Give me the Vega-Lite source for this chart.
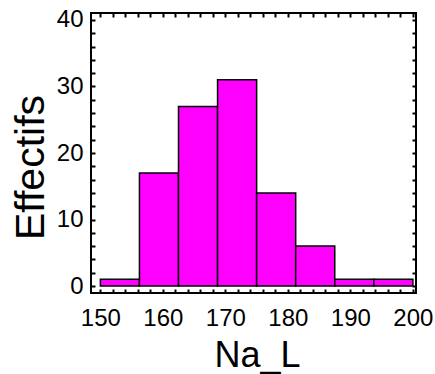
{
  "$schema": "https://vega.github.io/schema/vega-lite/v6.json",
  "autosize": {"type": "none"},
  "width": 325,
  "height": 280,
  "padding": {"left": 91, "top": 13, "right": 19, "bottom": 81},
  "background": "white",
  "config": {
    "view": {"stroke": "black", "strokeWidth": 2},
    "axis": {
      "labelFont": "Liberation Sans",
      "titleFont": "Liberation Sans",
      "labelColor": "black",
      "titleColor": "black",
      "titleFontWeight": "normal",
      "domain": false,
      "grid": false,
      "tickColor": "black",
      "tickWidth": 2
    }
  },
  "data": {
    "values": [
      {"bin_start": 150, "bin_end": 156.25, "count": 1},
      {"bin_start": 156.25, "bin_end": 162.5, "count": 17},
      {"bin_start": 162.5, "bin_end": 168.75, "count": 27},
      {"bin_start": 168.75, "bin_end": 175, "count": 31},
      {"bin_start": 175, "bin_end": 181.25, "count": 14},
      {"bin_start": 181.25, "bin_end": 187.5, "count": 6},
      {"bin_start": 187.5, "bin_end": 193.75, "count": 1},
      {"bin_start": 193.75, "bin_end": 200, "count": 1}
    ]
  },
  "resolve": {"axis": {"x": "independent", "y": "independent"}},
  "layer": [
    {
      "mark": {"type": "bar", "fill": "#FF00FF", "stroke": "black", "strokeWidth": 1.5},
      "encoding": {
        "x": {
          "field": "bin_start", "type": "quantitative",
          "scale": {"domain": [148.5, 200.5], "nice": false, "zero": false},
          "axis": {
            "orient": "bottom", "values": [150, 160, 170, 180, 190, 200], "ticks": false,
            "labelFontSize": 24, "labelPadding": 32, "labelBaseline": "alphabetic",
            "title": "Na_L", "titleFontSize": 36, "titleX": 166, "titleY": 73, "titleBaseline": "alphabetic"
          }
        },
        "x2": {"field": "bin_end"},
        "y": {
          "field": "count", "type": "quantitative",
          "scale": {"domain": [-1.05, 41.05], "nice": false, "zero": false},
          "axis": {
            "orient": "left", "values": [0, 10, 20, 30, 40], "ticks": false,
            "labelFontSize": 24, "labelPadding": 8,
            "title": "Effectifs", "titleFontSize": 41, "titleX": -48, "titleY": 154, "titleBaseline": "alphabetic", "titleAngle": -90
          }
        },
        "y2": {"datum": 0}
      }
    },
    {
      "mark": {"type": "bar", "opacity": 0},
      "encoding": {
        "x": {
          "field": "bin_start", "type": "quantitative",
          "axis": {
            "orient": "bottom", "labels": false, "title": null, "tickSize": -4,
            "values": [150, 152, 154, 156, 158, 160, 162, 164, 166, 168, 170, 172, 174, 176, 178, 180, 182, 184, 186, 188, 190, 192, 194, 196, 198, 200]
          }
        },
        "x2": {"field": "bin_end"},
        "y": {
          "field": "count", "type": "quantitative",
          "axis": {
            "orient": "left", "labels": false, "title": null, "tickSize": -4,
            "values": [0, 2, 4, 6, 8, 10, 12, 14, 16, 18, 20, 22, 24, 26, 28, 30, 32, 34, 36, 38, 40]
          }
        },
        "y2": {"datum": 0}
      }
    },
    {
      "mark": {"type": "bar", "opacity": 0},
      "encoding": {
        "x": {
          "field": "bin_start", "type": "quantitative",
          "axis": {
            "orient": "top", "labels": false, "title": null, "tickSize": -4,
            "values": [150, 152, 154, 156, 158, 160, 162, 164, 166, 168, 170, 172, 174, 176, 178, 180, 182, 184, 186, 188, 190, 192, 194, 196, 198, 200]
          }
        },
        "x2": {"field": "bin_end"},
        "y": {
          "field": "count", "type": "quantitative",
          "axis": {
            "orient": "right", "labels": false, "title": null, "tickSize": -4,
            "values": [0, 2, 4, 6, 8, 10, 12, 14, 16, 18, 20, 22, 24, 26, 28, 30, 32, 34, 36, 38, 40]
          }
        },
        "y2": {"datum": 0}
      }
    }
  ]
}
